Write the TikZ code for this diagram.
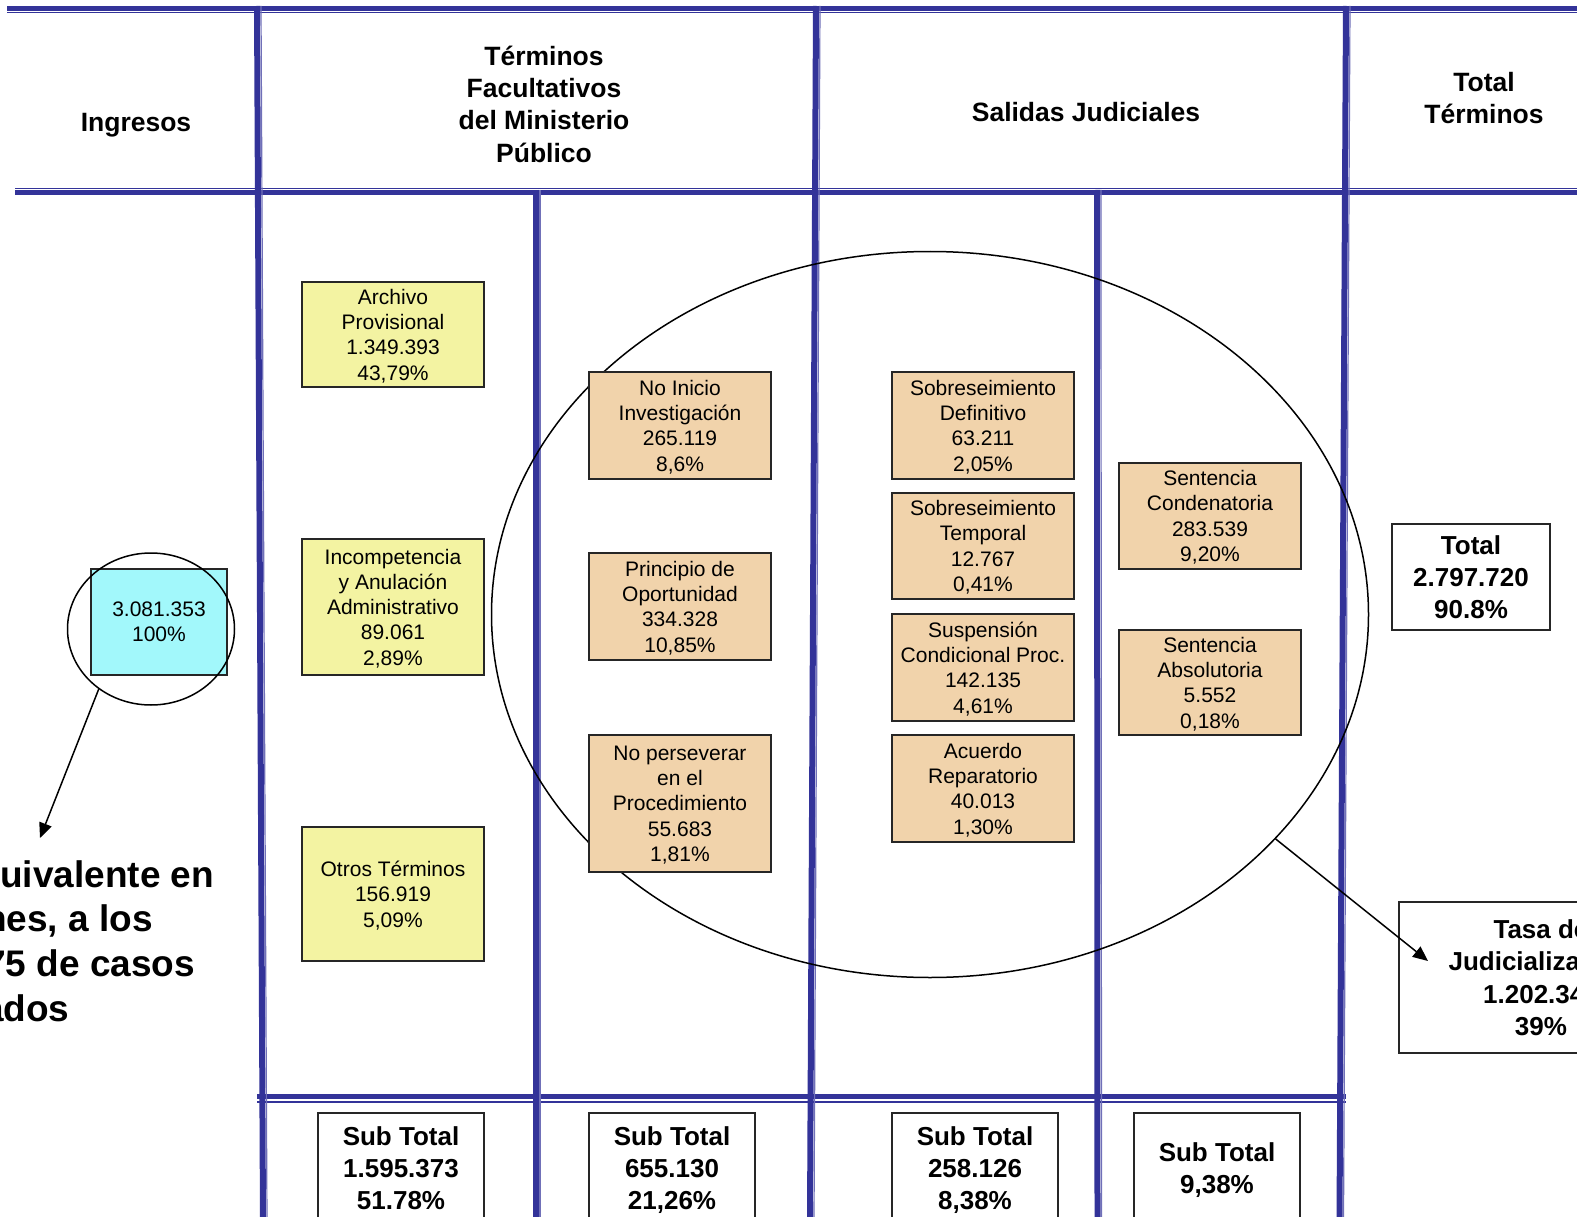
\documentclass[tikz,border=0pt]{standalone}
\usepackage{fontspec}
\setmainfont{Liberation Sans}
\usetikzlibrary{shapes.geometric,arrows.meta}
\definecolor{gridblue}{HTML}{333399}
\definecolor{yel}{HTML}{F3F3A2}
\definecolor{tanbox}{HTML}{F1D3AB}
\definecolor{cyn}{HTML}{A2F8FB}
\tikzset{
  thickln/.style={gridblue,line width=4.5pt},
  thinln/.style={gridblue,line width=1.3pt},
  vthin/.style={gridblue!70,line width=1.2pt},
  vthick/.style={gridblue,line width=6pt},
  hdr/.style={inner sep=0pt,align=center,text depth=0pt,font=\fontsize{26.5}{32.3}\selectfont\bfseries},
  box/.style={draw=black!85,line width=1.8pt,inner sep=0pt,align=center,text depth=0pt,font=\fontsize{21}{25.3}\selectfont},
  ybox/.style={box,fill=yel,minimum width=182pt},
  tbox/.style={box,fill=tanbox,minimum width=182pt},
  bbox/.style={draw=black!85,line width=1.8pt,inner sep=0pt,align=center,text depth=0pt,fill=white,font=\fontsize{26}{32.3}\selectfont\bfseries},
  ring/.style={draw=black,line width=1.5pt,ellipse,inner sep=0pt},
  arr/.style={draw=black,line width=1.5pt,-{Triangle[length=15pt,width=13pt]}},
  bigtxt/.style={inner sep=0pt,anchor=base west,font=\fontsize{37}{44.4}\selectfont\bfseries}
}
\begin{document}
\begin{tikzpicture}[x=1pt,y=-1pt]
\useasboundingbox (0,0) rectangle (1577,1217);
\clip (0,0) rectangle (1577,1217);
\fill[white] (0,0) rectangle (1577,1217);
% grid lines
\draw[thickln] (7,8.3) -- (1577,8.3);
\draw[thinln] (7,12.7) -- (1577,12.7);
\draw[thinln] (15,188.3) -- (1577,188.3);
\draw[thickln] (15,192.5) -- (1577,192.5);
\draw[thickln] (257,1096.5) -- (1346,1096.5);
\draw[thinln] (257,1102) -- (1346,1102);
\draw[vthick] (257,6) -- (263,1220);
\draw[vthin] (261,6) -- (267,1220);
\draw[vthick] (536,190) -- (536,1220);
\draw[vthin] (540,190) -- (540,1220);
\draw[vthick] (816,6) -- (810,1220);
\draw[vthin] (820,6) -- (814,1220);
\draw[vthick] (1097,190) -- (1097.5,1220);
\draw[vthin] (1101,190) -- (1101.5,1220);
\draw[vthick] (1346,6) -- (1339.5,1220);
\draw[vthin] (1350,6) -- (1343.5,1220);
% headers
\node[hdr] (hIng) at (136,122) {Ingresos};
\node[hdr] (hTer) at (544,104) {Términos\\Facultativos\\del Ministerio\\Público};
\node[hdr] (hSal) at (1086,112) {Salidas Judiciales};
\node[hdr] (hTot) at (1484,98) {Total\\Términos};
% big ellipse
\node[ring,minimum width=877pt,minimum height=726pt] (bigell) at (930,614.5) {};
% yellow boxes
\node[ybox,minimum height=105pt] (a1) at (393,334.5) {Archivo\\Provisional\\1.349.393\\43,79\%};
\node[ybox,minimum height=136pt] (a2) at (393,607) {Incompetencia\\y Anulación\\Administrativo\\89.061\\2,89\%};
\node[ybox,minimum height=134pt] (a3) at (393,894) {Otros Términos\\156.919\\5,09\%};
% tan boxes
\node[tbox,minimum height=107pt] (b1) at (680,425.5) {No Inicio\\Investigación\\265.119\\8,6\%};
\node[tbox,minimum height=107pt] (b2) at (680,606.5) {Principio de\\Oportunidad\\334.328\\10,85\%};
\node[tbox,minimum height=137pt] (b3) at (680,803.5) {No perseverar\\en el\\Procedimiento\\55.683\\1,81\%};
\node[tbox,minimum height=107pt] (c1) at (983,425.5) {Sobreseimiento\\Definitivo\\63.211\\2,05\%};
\node[tbox,minimum height=106pt] (c2) at (983,546) {Sobreseimiento\\Temporal\\12.767\\0,41\%};
\node[tbox,minimum height=107pt] (c3) at (983,667.5) {Suspensión\\Condicional Proc.\\142.135\\4,61\%};
\node[tbox,minimum height=107pt] (c4) at (983,788.5) {Acuerdo\\Reparatorio\\40.013\\1,30\%};
\node[tbox,minimum height=106pt] (d1) at (1210,516) {Sentencia\\Condenatoria\\283.539\\9,20\%};
\node[tbox,minimum height=105pt] (d2) at (1210,682.5) {Sentencia\\Absolutoria\\5.552\\0,18\%};
% ingresos
\node[box,fill=cyn,minimum width=136pt,minimum height=106pt] (ing) at (159,622) {3.081.353\\100\%};
\node[ring,minimum width=167pt,minimum height=152pt] (smallell) at (151,629) {};
% totals
\node[bbox,minimum width=158pt,minimum height=106pt] (tot) at (1471,577) {Total\\2.797.720\\90.8\%};
\node[bbox,minimum width=284pt,minimum height=151pt] (tasa) at (1541,977.5) {Tasa de\\Judicialización\\1.202.347\\39\%};
\node[bbox,minimum width=166pt,minimum height=110pt] (s1) at (401,1168) {Sub Total\\1.595.373\\51.78\%};
\node[bbox,minimum width=166pt,minimum height=110pt] (s2) at (672,1168) {Sub Total\\655.130\\21,26\%};
\node[bbox,minimum width=166pt,minimum height=110pt] (s3) at (975,1168) {Sub Total\\258.126\\8,38\%};
\node[bbox,minimum width=166pt,minimum height=110pt] (s4) at (1217,1168) {Sub Total\\9,38\%};
% left text
\node[bigtxt] (l1) at (0,887) {uivalente en};
\node[bigtxt] (l2) at (-16,931.7) {nes, a los};
\node[bigtxt] (l3) at (-15,976.4) {75 de casos};
\node[bigtxt] (l4) at (-17,1021) {ados};
% arrows
\coordinate (ingtip) at (40,838);
\coordinate (tasatip) at (1428,961);
\draw[arr] (smallell.229.6) -- (ingtip);
\draw[arr] (bigell.-33.1) -- (tasatip);
\end{tikzpicture}
\end{document}
